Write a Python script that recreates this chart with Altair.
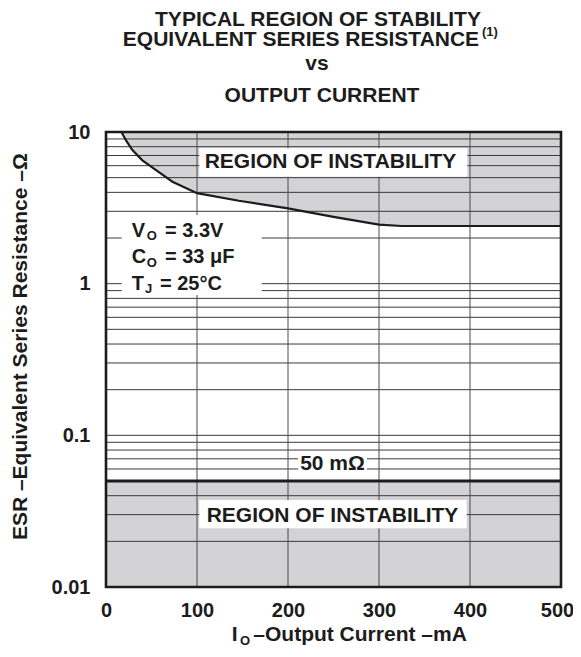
import altair as alt
import pandas as pd

# ---------------- data ----------------
current_ma = [17, 22, 29, 40, 55, 73, 100, 146, 200, 250, 300, 325, 500]
esr_boundary = [10, 8.8, 7.6, 6.5, 5.6, 4.7, 3.95, 3.52, 3.14, 2.76, 2.45, 2.40, 2.40]
esr_top = [10] * len(current_ma)

low_x = [0, 500]
low_esr = [0.05, 0.05]
low_floor = [0.01, 0.01]

x_ticks = [0, 100, 200, 300, 400, 500]
y_ticks = [0.01, 0.1, 1, 10]
x_grid = [100, 200, 300, 400]
y_grid = [0.02, 0.03, 0.04, 0.06, 0.07, 0.08, 0.09,
          0.1, 0.2, 0.3, 0.4, 0.5, 0.6, 0.7, 0.8, 0.9,
          1, 2, 3, 4, 5, 6, 7, 8, 9]

# ---------------- styling ----------------
W, H = 455, 455
FONT = "Liberation Sans"
INK = "#1c1c1c"
GRAY = "#d3d3d5"
GRID = "#3a3a3a"

df_curve = pd.DataFrame({"current": current_ma, "esr": esr_boundary, "top": esr_top})
df_low = pd.DataFrame({"current": low_x, "esr": low_esr, "floor": low_floor})
df_hg = pd.DataFrame({"esr": y_grid})
df_vg = pd.DataFrame({"current": x_grid})
one = pd.DataFrame({"k": [0]})

xs = alt.Scale(domain=[0, 500], nice=False, zero=False)
ys = alt.Scale(type="log", domain=[0.01, 10], nice=False)
xaxis = alt.Axis(values=x_ticks, grid=False, ticks=False, domain=False,
                 labelFont=FONT, labelFontSize=20, labelFontWeight="bold",
                 labelColor=INK, labelPadding=13, labelFlush=False, labelOverlap=False,
                 labelOffset={"condition": {"test": "datum.value >= 500", "value": -4},
                              "value": 0})
yaxis = alt.Axis(values=y_ticks, format="~g", grid=False, ticks=False, domain=False,
                 labelFont=FONT, labelFontSize=20, labelFontWeight="bold",
                 labelColor=INK, labelPadding=16, labelFlush=False, labelOverlap=False)


def X(field):
    return alt.X(f"{field}:Q", scale=xs, axis=xaxis, title=None)


def Y(field):
    return alt.Y(f"{field}:Q", scale=ys, axis=yaxis, title=None)


upper = alt.Chart(df_curve).mark_area(color=GRAY, opacity=1).encode(
    x=X("current"), y=Y("esr"), y2=alt.Y2("top"))
lower = alt.Chart(df_low).mark_area(color=GRAY, opacity=1).encode(
    x=X("current"), y=Y("esr"), y2=alt.Y2("floor"))
hgrid = alt.Chart(df_hg).mark_rule(color=GRID, strokeWidth=1).encode(y=Y("esr"))
vgrid = alt.Chart(df_vg).mark_rule(color="#4a4a4a", strokeWidth=1).encode(x=X("current"))
curve = alt.Chart(df_curve).mark_line(color=INK, strokeWidth=2.2).encode(
    x=X("current"), y=Y("esr"))
minline = alt.Chart(df_low).mark_line(color=INK, strokeWidth=2.8).encode(
    x=X("current"), y=Y("esr"))


def box(x0, x1, y0, y1):
    return alt.Chart(one).mark_rect(color="white", opacity=1).encode(
        x=alt.value(x0), x2=alt.value(x1), y=alt.value(y0), y2=alt.value(y1))


def txt(s, x, y, size=21, align="left", angle=0, weight="bold"):
    return alt.Chart(one).mark_text(
        text=s, align=align, baseline="alphabetic", fontSize=size, font=FONT,
        fontWeight=weight, color=INK, angle=angle).encode(
        x=alt.value(x), y=alt.value(y))


OHM = "\u03a9"

boxes = [
    box(93.3, 361.3, 16.3, 44.7),     # upper region label
    box(15.7, 155.7, 83, 163),        # conditions
    box(192, 261, 320, 339),          # 50 mOhm
    box(93.3, 360.7, 368, 396.3),     # lower region label
]

texts = [
    txt("REGION OF INSTABILITY", 224.5, 36.3, align="center"),
    txt("REGION OF INSTABILITY", 226.5, 389.7, align="center"),
    txt("50 m" + OHM, 226.5, 338, align="center"),
    # conditions
    txt("V", 25.7, 104.7, size=20), txt("O", 40.7, 108, size=13), txt("= 3.3V", 59, 104.7, size=20),
    txt("C", 25.7, 131.3, size=20), txt("O", 40.7, 134.7, size=13), txt("= 33 \u03bcF", 59, 131.3, size=20),
    txt("T", 25.7, 158, size=20), txt("J", 39, 161, size=13), txt("= 25\u00b0C", 54, 158, size=20),
    # title
    txt("TYPICAL REGION OF STABILITY", 212, -106, align="center"),
    txt("EQUIVALENT SERIES RESISTANCE", 195, -86, align="center"),
    txt("(1)", 376, -96, size=13),
    txt("vs", 211, -62, align="center"),
    txt("OUTPUT CURRENT", 216, -30, align="center"),
    # axis titles
    txt("I", 125.7, 509), txt("O", 134, 513, size=13),
    txt("\u2013Output Current \u2013mA", 147.3, 509),
    txt("ESR \u2013Equivalent Series Resistance \u2013" + OHM, -79.3, 214.7,
        align="center", angle=270),
]

border = alt.Chart(one).mark_rect(filled=False, stroke=INK, strokeWidth=2.6).encode(
    x=alt.value(0), x2=alt.value(W), y=alt.value(0), y2=alt.value(H))

chart = alt.layer(
    upper, lower, hgrid, vgrid, curve, minline, *boxes, *texts, border
).properties(
    width=W, height=H,
    autosize=alt.AutoSizeParams(type="none"),
    padding={"left": 98, "top": 124, "right": 12, "bottom": 60},
).configure_view(stroke=None)

chart.save("out.html", embed_options={"renderer": "svg", "actions": False})
